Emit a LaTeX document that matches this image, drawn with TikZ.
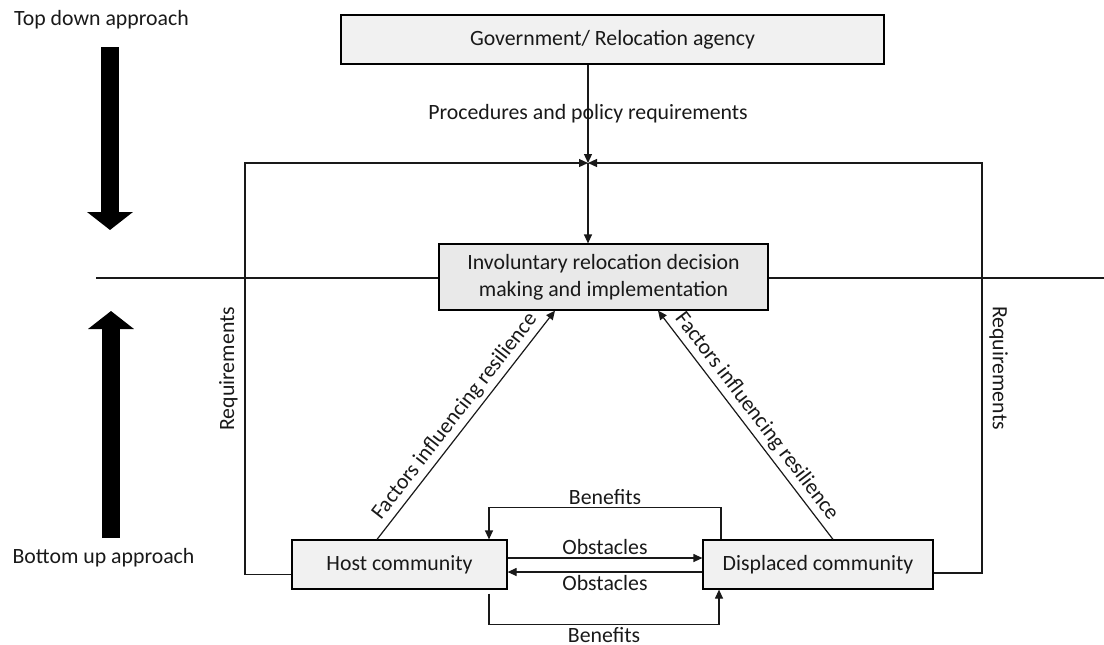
\documentclass[tikz,border=0pt]{standalone}
\usepackage{fontspec}
\setmainfont{Carlito}
\usepackage{tikz}
\usetikzlibrary{arrows.meta}
\usetikzlibrary{calc,positioning}

\begin{document}
\begin{tikzpicture}[x=0.5pt, y=-0.5pt, >={Triangle[length=4.5pt,width=4pt]},
        every node/.style={font=\fontsize{10.9}{13.5}\selectfont, text=black!90},
        box/.style={draw, line width=0.6pt, fill=gray!11, inner sep=0pt, align=center},
        line/.style={line width=0.6pt, draw=black!90},
        bigarrow/.style={line width=9pt, -{Triangle[length=9pt,width=22.5pt]}}]
        \useasboundingbox (0,0) rectangle (1104,644);

        % dividing line
        \draw[line] (96,278) -- (1104,278);

        \node (topdown) at (101.5,20) {Top down approach};
        \node (bottomup) at (103.5,558) {Bottom up approach};
        \draw[bigarrow] (110,47) -- (110,230);
        \draw[bigarrow] (111,538) -- (111,311);

        \node[box, minimum width=271.5pt, minimum height=24.5pt] (gov) at (612.5,39.5) {Government/ Relocation agency};
        \node[box, fill=gray!17, minimum width=164.5pt, minimum height=33pt] (decision) at (603.5,277) {Involuntary relocation decision\\making and implementation};
        \node[box, minimum width=107.5pt, minimum height=24.5pt] (host) at (399.5,564.5) {Host community};
        \node[box, minimum width=115pt, minimum height=24.5pt] (displaced) at (818,564.5) {Displaced community};

        \coordinate (junction) at (588,163);
        \coordinate (lcorner) at (245,163);
        \coordinate (rcorner) at (982,163);

        \draw[line, ->] (gov.south -| junction) -- (junction) node[midway] {Procedures and policy requirements};
        \draw[line, ->] (junction) -- (junction |- decision.north);

        \draw[line, ->] ([yshift=-5pt]host.west) -| (lcorner) node[pos=0.75, rotate=90, anchor=south] {Requirements} -- (junction);
        \draw[line, ->] ([yshift=-4.25pt]displaced.east) -| (rcorner) node[pos=0.75, rotate=-90, anchor=south] {Requirements} -- (junction);

        \draw[line, ->] ([xshift=-11.25pt]host.north) -- ([xshift=-24.25pt]decision.south) node[midway, sloped, above, inner sep=2pt] {Factors influencing resilience};
        \draw[line, ->] ([xshift=7.5pt]displaced.north) -- ([xshift=27.25pt]decision.south) node[midway, sloped, above, inner sep=2pt] {Factors influencing resilience};

        \draw[line, ->] ([xshift=-48.5pt]displaced.north) -- ++(0,-32) -| ([xshift=44.75pt]host.north) node[pos=0.25, above, inner sep=1pt] {Benefits};
        \draw[line, ->] ([yshift=3.25pt]host.east) -- ([yshift=3.25pt]displaced.west) node[midway, above, inner sep=1.5pt] {Obstacles};
        \draw[line, ->] ([yshift=-3.75pt]displaced.west) -- ([yshift=-3.75pt]host.east) node[midway, below, inner sep=1.5pt] {Obstacles};
        \draw[line, ->] ([xshift=44.75pt,yshift=-2pt]host.south) -- ++(0,31) -| ([xshift=-49.5pt]displaced.south) node[pos=0.25, below, inner sep=1pt] {Benefits};
\end{tikzpicture}
\end{document}
